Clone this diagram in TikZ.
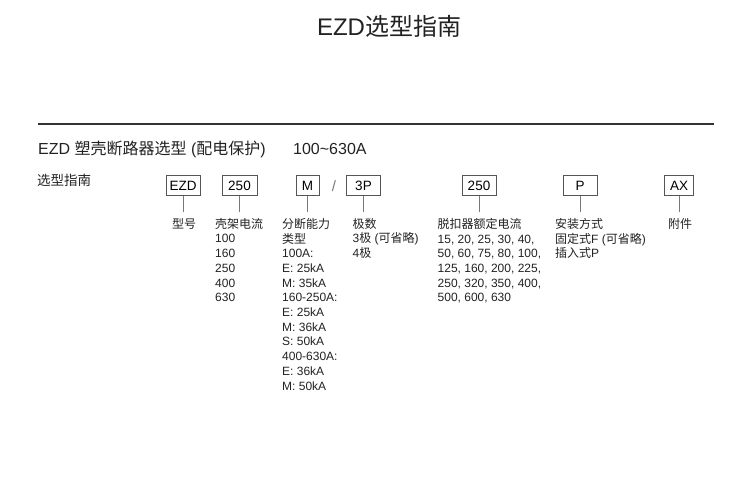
\documentclass[tikz,border=0pt]{standalone}
\usepackage{fontspec}
\setmainfont{Liberation Sans}
\newfontfamily\cjk{Noto Sans CJK SC}
\newcommand{\zh}[1]{{\cjk #1}}
\definecolor{txt}{HTML}{222222}
\definecolor{boxline}{HTML}{555555}
\definecolor{conn}{HTML}{777777}
\begin{document}
\begin{tikzpicture}[x=1pt,y=-1pt,
  codebox/.style={draw=boxline,line width=0.8pt,minimum height=19.5pt,inner sep=0pt,
    text=black,font=\fontsize{13.5}{15}\selectfont},
  conline/.style={draw=conn,line width=0.8pt},
  lab/.style={anchor=north west,inner sep=0pt,align=left,text=txt,
    font=\fontsize{12}{14.7}\selectfont}]
\useasboundingbox (0,0) rectangle (754,485);
\node[text=txt,font=\fontsize{24}{28}\selectfont,anchor=base] (title) at (389,35) {EZD\zh{选型指南}};
\coordinate (rl) at (38,124);
\coordinate (rr) at (714,124);
\draw[line width=1.4pt,draw=black!80] (rl) -- (rr);
\node[anchor=base west,inner sep=0pt,text=txt,font=\fontsize{16}{19}\selectfont] (head) at (38,154)
  {EZD \zh{塑壳断路器选型} (\zh{配电保护})};
\node[anchor=base west,inner sep=0pt,text=txt,font=\fontsize{16}{19}\selectfont] (range) at (293,154) {100\char`~630A};
\node[anchor=west,inner sep=0pt,text=txt,font=\fontsize{13.5}{16}\selectfont] (guide) at (37,180) {\zh{选型指南}};
% boxes
\node[codebox,minimum width=34pt] (b1) at (183,185.5) {EZD};
\node[codebox,minimum width=35pt] (b2) at (239.5,185.5) {250};
\node[codebox,minimum width=23pt] (b3) at (307.5,185.5) {M};
\node[text=conn,font=\fontsize{15}{18}\selectfont,inner sep=0pt] (sl) at (334,186) {/};
\node[codebox,minimum width=34pt] (b4) at (363.5,185.5) {3P};
\node[codebox,minimum width=34pt] (b5) at (479,185.5) {250};
\node[codebox,minimum width=34pt] (b6) at (580,185.5) {P};
\node[codebox,minimum width=29pt] (b7) at (679,185.5) {AX};
% connectors
\foreach \b in {b1,b2,b3,b4,b5,b6,b7}{
  \draw[conline] (\b.south) -- ++(0,16);
}
% labels
\node[lab] (l1) at (172,218) {\zh{型号}};
\node[lab] (l2) at (215,218) {\zh{壳架电流}\\100\\160\\250\\400\\630};
\node[lab] (l3) at (282,218) {\zh{分断能力}\\\zh{类型}\\100A:\\E: 25kA\\M: 35kA\\160-250A:\\E: 25kA\\M: 36kA\\S: 50kA\\400-630A:\\E: 36kA\\M: 50kA};
\node[lab] (l4) at (352.5,218) {\zh{极数}\\3\zh{极} (\zh{可省略})\\4\zh{极}};
\node[lab] (l5) at (437.5,218) {\zh{脱扣器额定电流}\\15, 20, 25, 30, 40,\\50, 60, 75, 80, 100,\\125, 160, 200, 225,\\250, 320, 350, 400,\\500, 600, 630};
\node[lab] (l6) at (555,218) {\zh{安装方式}\\\zh{固定式}F (\zh{可省略})\\\zh{插入式}P};
\node[lab] (l7) at (668,218) {\zh{附件}};
\end{tikzpicture}
\end{document}
